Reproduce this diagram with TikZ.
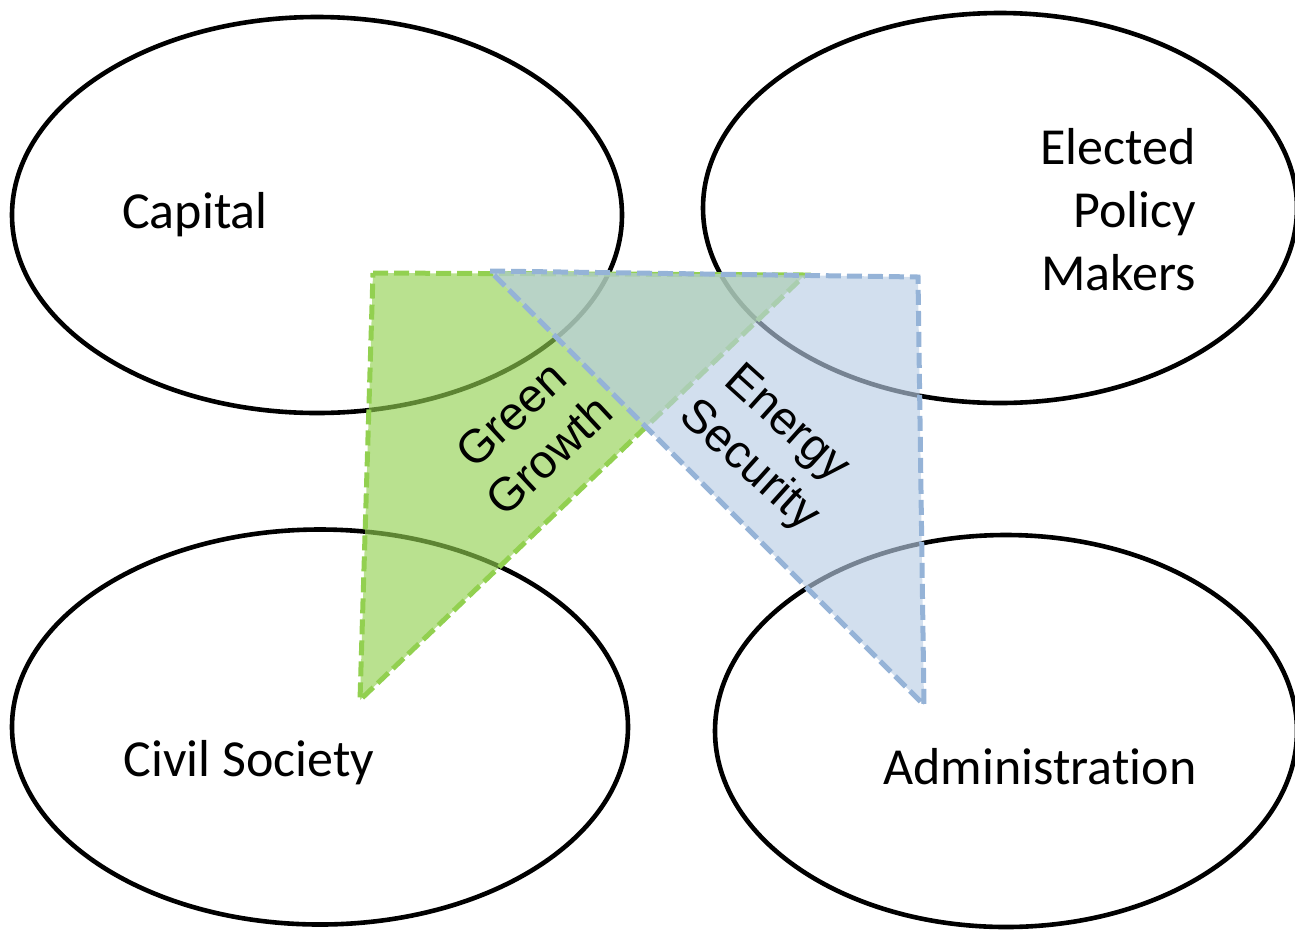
\documentclass[tikz,border=0pt]{standalone}
\usepackage{fontspec}
\setmainfont{Carlito}[Ligatures=NoCommon]
\newfontfamily\arialfont{Liberation Sans}
\usetikzlibrary{shapes.geometric}
\definecolor{ggreen}{HTML}{92D050}
\definecolor{gblue}{HTML}{95B3D7}
\definecolor{gbluefill}{HTML}{B9CDE5}
\tikzset{
  actor/.style={ellipse, draw=black, line width=4.6pt, inner sep=0pt},
  label/.style={font=\fontsize{52}{63}\selectfont, inner sep=0pt},
  theme/.style={font=\arialfont\fontsize{47}{56}\selectfont, align=center, inner sep=0pt},
  greentri/.style={fill=ggreen, fill opacity=0.64, draw=ggreen, draw opacity=1, line width=5pt, dash pattern=on 15pt off 6pt, line join=miter},
  bluetri/.style={fill=gbluefill, fill opacity=0.64, draw=gblue, draw opacity=1, line width=5pt, dash pattern=on 15pt off 6pt, line join=miter}
}
\begin{document}
\begin{tikzpicture}[x=1pt,y=-1pt]
\useasboundingbox (0,0) rectangle (1295,930);
\node[actor, minimum width=610pt, minimum height=396pt] (cap) at (317,215) {};
\node[actor, minimum width=594pt, minimum height=390pt] (ele) at (1000,208) {};
\node[actor, minimum width=616pt, minimum height=395pt] (civ) at (320,727) {};
\node[actor, minimum width=582pt, minimum height=392pt] (adm) at (1006,731) {};
\coordinate (g1) at (373,273);
\coordinate (g2) at (805,275);
\coordinate (g3) at (360,700);
\coordinate (b1) at (490,271);
\coordinate (b2) at (918,277);
\coordinate (b3) at (924,705);
\path[greentri] (g1) -- (g2) -- (g3) -- cycle;
\path[bluetri] (b1) -- (b2) -- (b3) -- cycle;
\node[label] (capt) at (195,215) {Capital};
\node[label, align=right, anchor=east] (elet) at (1196,210) {Elected\\Policy\\Makers};
\node[label] (civt) at (249,763) {Civil Society};
\node[label] (admt) at (1040,767) {Administration};
\node[theme, rotate=43] (gg) at (530,435) {Green\\Growth};
\node[theme, rotate=-42] (es) at (767,446) {Energy\\Security};
\end{tikzpicture}
\end{document}
